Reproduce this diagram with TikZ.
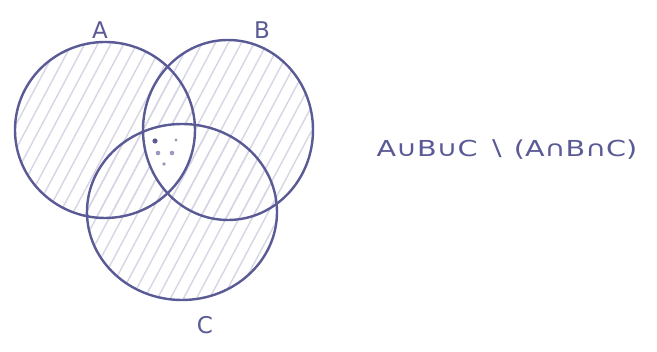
\documentclass[tikz,border=0pt]{standalone}
\usepackage{fontspec}
\setsansfont{DejaVu Sans}
\definecolor{inkc}{HTML}{5A5A96}
\definecolor{hatchc}{HTML}{D6D6E4}
\definecolor{dotc}{HTML}{9A9AC0}
\begin{document}
\begin{tikzpicture}[x=1pt,y=1pt,
  ink/.style={draw=inkc, line width=2.4pt},
  hatch/.style={draw=hatchc, line width=1.4pt},
  lbl/.style={text=inkc, font=\sffamily\fontsize{23}{23}\selectfont},
  formula/.style={text=inkc, font=\sffamily\fontsize{22}{22}\selectfont, xscale=1.3}]
\useasboundingbox (0,0) rectangle (657,352);
\fill[white] (0,0) rectangle (657,352);
% hatching inside A
\begin{scope}
  \clip (105,222) ellipse [x radius=90, y radius=88];
  \foreach \i in {-300,-287,...,400} \draw[hatch] (\i,0) -- ++(62:420);
\end{scope}
% hatching inside B
\begin{scope}
  \clip (228,222) ellipse [x radius=85, y radius=90];
  \foreach \i in {-300,-287,...,400} \draw[hatch] (\i,0) -- ++(62:420);
\end{scope}
% hatching inside C
\begin{scope}
  \clip (182,140) ellipse [x radius=95, y radius=88];
  \foreach \i in {-300,-287,...,400} \draw[hatch] (\i,0) -- ++(62:420);
\end{scope}
% triple intersection left blank
\begin{scope}
  \clip (105,222) ellipse [x radius=90, y radius=88];
  \clip (228,222) ellipse [x radius=85, y radius=90];
  \fill[white] (182,140) ellipse [x radius=95, y radius=88];
\end{scope}
% dots in triple intersection
\fill[inkc] (155,211) circle (2.6);
\fill[dotc] (158,199) circle (2.3);
\fill[dotc] (172,199) circle (2.3);
\fill[dotc] (164,188) circle (1.8);
\fill[dotc] (176,212) circle (1.6);
% circles
\draw[ink] (105,222) ellipse [x radius=90, y radius=88];
\draw[ink] (228,222) ellipse [x radius=85, y radius=90];
\draw[ink] (182,140) ellipse [x radius=95, y radius=88];
% labels
\node[lbl] (la) at (100,322) {A};
\node[lbl] (lb) at (262,322) {B};
\node[lbl] (lc) at (205,27) {C};
\node[formula, anchor=west] (f) at (372,202) {A∪B∪C ∖ (A∩B∩C)};
\end{tikzpicture}
\end{document}
